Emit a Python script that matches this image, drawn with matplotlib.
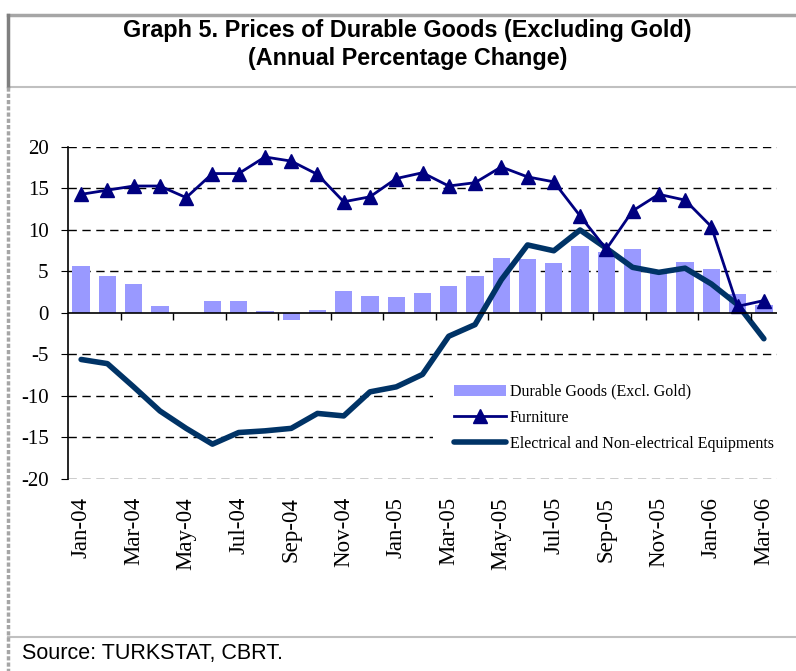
import matplotlib
matplotlib.use("Agg")
import matplotlib.pyplot as plt
from matplotlib.lines import Line2D
import numpy as np

plt.rcParams["axes.unicode_minus"] = False

months = ["Jan-04", "Feb-04", "Mar-04", "Apr-04", "May-04", "Jun-04", "Jul-04", "Aug-04", "Sep-04",
          "Oct-04", "Nov-04", "Dec-04", "Jan-05", "Feb-05", "Mar-05", "Apr-05", "May-05", "Jun-05",
          "Jul-05", "Aug-05", "Sep-05", "Oct-05", "Nov-05", "Dec-05", "Jan-06", "Feb-06", "Mar-06"]

durable = [5.7, 4.4, 3.5, 0.9, 0.0, 1.4, 1.4, 0.2, -0.8, 0.4, 2.6, 2.1, 1.9, 2.4,
           3.2, 4.4, 6.6, 6.5, 6.0, 8.1, 7.4, 7.7, 5.0, 6.1, 5.3, 2.3, 1.0]
furniture = [14.3, 14.8, 15.3, 15.3, 13.9, 16.8, 16.8, 18.8, 18.3, 16.7, 13.4, 14.0, 16.2, 16.9,
             15.3, 15.7, 17.6, 16.4, 15.8, 11.7, 7.7, 12.3, 14.3, 13.6, 10.4, 0.8, 1.5]
electrical = [-5.6, -6.1, -8.9, -11.8, -13.9, -15.8, -14.4, -14.2, -13.9, -12.1, -12.4, -9.5, -8.9, -7.4,
              -2.8, -1.4, 4.0, 8.2, 7.5, 10.0, 7.8, 5.5, 4.9, 5.4, 3.5, 1.0, -3.1]

serif = "Liberation Serif"
sans = "Liberation Sans"

x = np.arange(len(months))

fig = plt.figure(figsize=(7.96, 6.71), dpi=100)
ax = fig.add_axes([68 / 796, 1 - 479 / 671, (777 - 68) / 796, (479 - 147) / 671])

# dashed grid
for v in [-20, -15, -10, -5, 5, 10, 15, 20]:
    ax.axhline(v, color="black", lw=1, ls=(0, (6, 4)), zorder=0)

bars = ax.bar(x, durable, width=0.66, color="#9999FF", label="Durable Goods (Excl. Gold)", zorder=2)
furn, = ax.plot(x, furniture, color="#000080", lw=2, marker="^", ms=10, label="Furniture", zorder=4)
elec, = ax.plot(x, electrical, color="#003366", lw=4, solid_capstyle="round",
                label="Electrical and Non-electrical Equipments", zorder=3)

# zero line with tick marks every two months
ax.axhline(0, color="black", lw=1.2, zorder=5)
bounds = np.arange(-0.5, len(months), 2)[1:]
ax.vlines(bounds, -0.8, 0, color="black", lw=1, zorder=5)

ax.set_xlim(-0.5, len(months) - 0.5)
ax.set_ylim(-20, 20)
ax.set_yticks(range(-20, 21, 5))
ax.set_yticklabels([str(v) for v in range(-20, 21, 5)], fontfamily=serif, fontsize=15)
ax.set_xticks(x[::2])
ax.set_xticklabels(months[::2], rotation=90, fontfamily=serif, fontsize=16.5)

for s in ["top", "right", "bottom"]:
    ax.spines[s].set_visible(False)
ax.spines["left"].set_linewidth(1.2)
ax.tick_params(axis="y", direction="out", length=5, pad=9)
ax.tick_params(axis="x", length=0, pad=13)

# legend with white box that hides the gridlines behind it
leg = ax.legend([bars, furn, elec], [bars.get_label(), furn.get_label(), elec.get_label()],
                loc="upper left", bbox_to_anchor=(433 / 796, 1 - 363 / 671),
                bbox_transform=fig.transFigure, frameon=True, facecolor="white",
                edgecolor="none", framealpha=1, fancybox=False,
                prop={"family": serif, "size": 11.5}, handlelength=3.3, handletextpad=0.2,
                labelspacing=0.62, borderpad=1.3, borderaxespad=0)
leg.set_zorder(1)

# title and source
fig.text(0.512, 1 - 31 / 671, "Graph 5. Prices of Durable Goods (Excluding Gold)",
         ha="center", va="center", fontfamily=sans, fontweight="bold", fontsize=16.8)
fig.text(0.512, 1 - 59 / 671, "(Annual Percentage Change)",
         ha="center", va="center", fontfamily=sans, fontweight="bold", fontsize=16.8)
fig.text(22 / 796, 1 - 653 / 671, "Source: TURKSTAT, CBRT.", ha="left", va="center",
         fontfamily=sans, fontsize=15.5)

# frame lines
fig.add_artist(Line2D([8 / 796, 1], [1 - 15 / 671] * 2, color="#A6A6A6", lw=2.5))
fig.add_artist(Line2D([8 / 796, 1], [1 - 87 / 671] * 2, color="#C0C0C0", lw=1.5))
fig.add_artist(Line2D([8 / 796, 1], [1 - 637 / 671] * 2, color="#C0C0C0", lw=1.5))
fig.add_artist(Line2D([8 / 796] * 2, [1 - 15 / 671, 1 - 86 / 671], color="#7F7F7F", lw=2.5))
fig.add_artist(Line2D([8 / 796] * 2, [1 - 87 / 671, 0], color="#A6A6A6", lw=2.5, ls=(0, (1.2, 0.6))))

fig.savefig("out.png", dpi=100)
